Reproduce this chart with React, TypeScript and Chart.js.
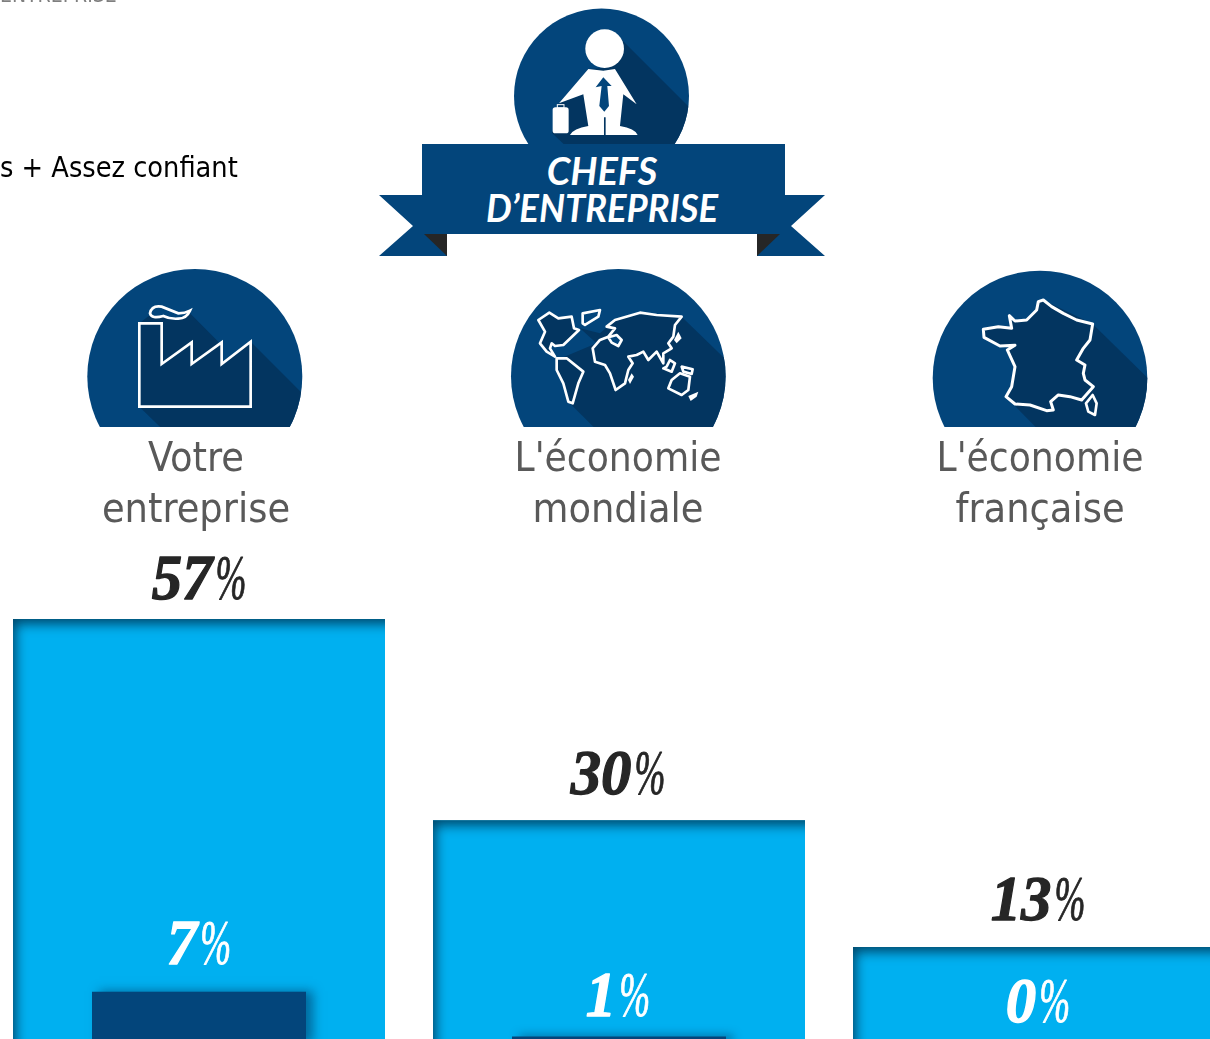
import React, { useEffect, useRef } from "react";
import { Chart, registerables } from "chart.js";

Chart.register(...registerables);

const categories = [["Votre", "entreprise"], ["L'économie", "mondiale"], ["L'économie", "française"]];
const totalValues = [57, 30, 13];
const strongValues = [7, 1, 0];
const headerLines = ["CHEFS", "D’ENTREPRISE"];
const legendFragment = "s + Assez confiant";
const clippedHeading = "ENTREPRISE";

const BLUE = "#03457B";
const SHADE = "#033560";
const SKY = "#00B0F0";
const totalGaps = [20, 26, 27];
const strongGaps = [28, 21, 22];
const labelNudge = [0, -1, -1];

function drawValue(ctx: CanvasRenderingContext2D, v: number, cx: number, baseline: number, color: string) {
  const digitScale = 0.95;
  const pctScale = 0.58;
  const gap = 3;
  const size = 64;
  const digits = String(v);
  const boldFont = `italic bold ${size}px "Liberation Serif"`;
  const thinFont = `italic ${size}px "Liberation Serif"`;
  ctx.save();
  ctx.fillStyle = color;
  ctx.strokeStyle = color;
  ctx.lineJoin = "round";
  ctx.textAlign = "left";
  ctx.textBaseline = "alphabetic";
  ctx.font = boldFont;
  const dw = ctx.measureText(digits).width * digitScale;
  ctx.font = thinFont;
  const pw = ctx.measureText("%").width * pctScale;
  const start = cx - (dw + gap + pw) / 2;
  ctx.save();
  ctx.translate(start, baseline);
  ctx.scale(digitScale, 1);
  ctx.font = boldFont;
  ctx.lineWidth = 1.3;
  ctx.fillText(digits, 0, 0);
  ctx.strokeText(digits, 0, 0);
  ctx.restore();
  ctx.save();
  ctx.translate(start + dw + gap, baseline);
  ctx.scale(pctScale, 1);
  ctx.font = thinFont;
  ctx.lineWidth = 1;
  ctx.fillText("%", 0, 0);
  ctx.strokeText("%", 0, 0);
  ctx.restore();
  ctx.restore();
}

const decorPlugin = {
  id: "decor",
  beforeDatasetDraw(chart: any, args: any) {
    if (args.index === 1) {
      const ctx = chart.ctx;
      ctx.save();
      ctx.shadowColor = "rgba(0,50,90,0.55)";
      ctx.shadowBlur = 10;
      ctx.shadowOffsetX = 7;
      ctx.shadowOffsetY = -1;
    }
  },
  afterDatasetDraw(chart: any, args: any) {
    const ctx = chart.ctx;
    if (args.index === 1) {
      ctx.restore();
      return;
    }
    chart.getDatasetMeta(0).data.forEach((bar: any) => {
      const x = bar.x - bar.width / 2;
      const y = bar.y;
      const h = bar.base - bar.y;
      ctx.save();
      ctx.beginPath();
      ctx.rect(x, y, bar.width, h);
      ctx.clip();
      ctx.shadowColor = "rgba(0,70,105,0.98)";
      ctx.shadowBlur = 12;
      ctx.shadowOffsetX = 3;
      ctx.shadowOffsetY = 5;
      ctx.fillStyle = "#00597f";
      ctx.beginPath();
      ctx.rect(x - 80, y - 80, bar.width + 200, h + 200);
      ctx.rect(x, y, bar.width + 60, h + 60);
      ctx.fill("evenodd");
      ctx.restore();
    });
  },
  afterDraw(chart: any) {
    const ctx = chart.ctx;
    const total = chart.getDatasetMeta(0).data;
    const strong = chart.getDatasetMeta(1).data;
    total.forEach((bar: any, i: number) => {
      drawValue(ctx, totalValues[i], bar.x + labelNudge[i], bar.y - totalGaps[i], "#262626");
      drawValue(ctx, strongValues[i], bar.x + labelNudge[i], strong[i].y - strongGaps[i], "#FFFFFF");
      ctx.save();
      ctx.fillStyle = "#595959";
      ctx.textAlign = "center";
      ctx.textBaseline = "alphabetic";
      ctx.font = '41px "DejaVu Sans Condensed", "DejaVu Sans"';
      const cx = bar.x + (i === 0 ? -3 : i === 1 ? -1 : 1);
      ctx.fillText(categories[i][0], cx, 471, 207);
      ctx.fillText(categories[i][1], cx, 522, 207);
      ctx.restore();
    });
  },
};

function Round({ cx, cy, r, clipY, id, children }: any) {
  return (
    <g>
      <clipPath id={id}>
        <rect x={cx - r - 2} y={cy - r - 2} width={2 * r + 4} height={clipY - cy + r + 2} />
      </clipPath>
      <clipPath id={id + "c"}>
        <circle cx={cx} cy={cy} r={r} />
      </clipPath>
      <g clipPath={`url(#${id})`}>
        <circle cx={cx} cy={cy} r={r} fill={BLUE} />
        <g clipPath={`url(#${id}c)`}>{children}</g>
      </g>
    </g>
  );
}

const line = { fill: SHADE, stroke: "#fff", strokeWidth: 8, strokeLinejoin: "round" as const };

function Art() {
  return (
    <svg width={1210} height={1039} style={{ position: "absolute", left: 0, top: 0 }}>
      <Round id="c0" cx={601.5} cy={96} r={87.5} clipY={144}>
        <polygon fill={SHADE} points="620,38 708,126 708,160 570,150 552,133 559,104 588,69 604,68" />
      </Round>
      <g transform="translate(370,0) scale(0.3333)" fill="#fff">
        <circle cx={704} cy={146} r={58} />
        <path d="M655,207 L700,212 L735,207 L800,313 L760,283 L750,378 Q795,385 803,405 L707,405 L707,352 L702,352 L702,405 L600,405 Q610,385 655,378 L640,283 L567,310 Z" />
        <path fill={BLUE} d="M700,232 L725,258 L712,258 L717,318 L703,335 L688,318 L695,258 L677,262 Z" />
        <rect x={548} y={322} width={48} height={78} rx={8} />
        <rect x={562} y={314} width={20} height={10} fill="none" stroke="#fff" strokeWidth={3} />
      </g>
      <polygon fill={BLUE} points="422,144 785,144 785,195 825,195 791,226 825,256 757,256 757,234 447,234 447,256 379,256 413,226 379,195 422,195" />
      <polygon fill="#262626" points="424,234 447,234 447,256" />
      <polygon fill="#262626" points="757,234 780,234 757,256" />
      <g fill="#fff" fontFamily="Lato" fontStyle="italic" fontWeight={700} fontSize={38} textAnchor="middle">
        <text x={602} y={185}>{headerLines[0]}</text>
        <text x={602} y={222} textLength={232} lengthAdjust="spacingAndGlyphs">{headerLines[1]}</text>
      </g>

      <Round id="c1" cx={194.8} cy={376.5} r={107.5} clipY={427}>
        <g transform="translate(70,260) scale(0.3333)">
          <polygon fill={SHADE} points="360,160 445,245 455,312 542,245 692,395 720,423 720,540 290,520 208,440 208,190 240,165" />
        </g>
      </Round>
      <g transform="translate(70,260) scale(0.3333)">
        <polygon {...line} strokeLinejoin="miter" points="208,190 275,190 275,312 365,247 365,312 455,247 455,312 542,245 542,440 208,440" />
        <path fill={BLUE} stroke="#fff" strokeWidth={8} d="M240,160 Q245,135 275,140 Q300,150 325,160 Q345,160 360,152 Q350,175 325,176 Q300,178 280,168 Q245,178 240,160 Z" />
      </g>

      <Round id="c2" cx={618.3} cy={376.3} r={107.3} clipY={427}>
        <g transform="translate(500,260) scale(0.3333)">
          <polygon fill={SHADE} points="545,170 720,340 720,540 320,540 205,425 170,300 290,250 240,205 300,220 345,180" />
        </g>
      </Round>
      <g transform="translate(500,260) scale(0.3333)">
        <polygon {...line} points="115,180 148,158 175,175 215,170 222,205 237,210 190,255 165,258 155,250 150,265 165,290 140,275 120,250 135,215" />
        <polygon {...line} points="170,295 200,295 250,335 235,370 218,430 205,425 190,370 170,330" />
        <polygon {...line} fill={BLUE} points="248,160 300,150 295,170 255,195 248,190" />
        <polygon {...line} points="320,200 345,180 420,158 470,165 545,170 525,195 520,230 505,250 515,265 490,280 490,310 470,275 445,300 430,275 410,285 385,290 398,310 385,330 375,370 347,390 330,340 315,315 285,305 278,265 300,240 325,230 345,205" />
        <polygon {...line} fill={BLUE} points="325,232 350,225 365,240 355,258 335,248" />
        <polygon {...line} points="490,325 515,335 525,310 510,300 500,320" />
        <polygon {...line} points="545,320 578,328 575,342 550,335" />
        <polygon {...line} points="540,340 570,350 565,390 545,405 505,385 515,360" />
        <polygon fill="#fff" points="535,215 545,235 530,250 522,240" />
        <polygon fill="#fff" points="395,340 402,350 390,372 384,360" />
        <polygon fill="#fff" points="565,408 595,395 590,410 572,423" />
      </g>

      <Round id="c3" cx={1040} cy={378} r={107.3} clipY={427}>
        <g transform="translate(920,260) scale(0.3333)">
          <polygon fill={SHADE} points="518,192 720,390 720,540 385,540 258,410 370,120" />
        </g>
      </Round>
      <g transform="translate(920,260) scale(0.3333)">
        <polygon {...line} strokeWidth={9} points="370,120 355,125 350,150 320,180 285,183 268,167 275,205 235,200 190,208 192,232 240,258 285,256 262,270 285,320 275,380 258,410 285,432 330,435 380,452 400,450 392,425 415,405 450,410 485,420 520,380 495,360 490,340 495,315 470,300 490,265 510,240 518,192 470,180 430,160 395,140" />
        <polygon {...line} points="518,405 530,430 525,465 505,455 498,430" />
      </g>
    </svg>
  );
}

export default function App() {
  const ref = useRef<HTMLCanvasElement>(null);
  useEffect(() => {
    const chart = new Chart(ref.current as HTMLCanvasElement, {
      type: "bar",
      data: {
        labels: categories.map((c) => c.join(" ")),
        datasets: [
          { label: "Très + Assez confiant", data: totalValues, backgroundColor: SKY, barPercentage: 372 / 420, categoryPercentage: 1, grouped: false, order: 2 },
          { label: "Très confiant", data: strongValues, backgroundColor: BLUE, barPercentage: 214 / 420, categoryPercentage: 1, grouped: false, order: 1 },
        ],
      },
      options: {
        responsive: false,
        animation: false,
        layout: { padding: 0 },
        plugins: { legend: { display: false }, tooltip: { enabled: false } },
        scales: {
          x: { display: false },
          y: { display: false, min: 0, max: 140 },
        },
      },
      plugins: [decorPlugin],
    } as any);
    return () => chart.destroy();
  }, []);
  return (
    <div style={{ position: "absolute", left: 0, top: 0, width: 1210, height: 1039, overflow: "hidden", background: "#fff" }}>
      <Art />
      <canvas ref={ref} width={1260} height={1044} style={{ position: "absolute", left: -11, top: 0, width: 1260, height: 1044 }} />
      <div style={{ position: "absolute", left: 0, top: -17, fontFamily: '"DejaVu Sans Condensed"', fontSize: 21, lineHeight: "24px", color: "#7f7f7f", whiteSpace: "nowrap" }}>{clippedHeading}</div>
      <div style={{ position: "absolute", left: 0, top: 149, fontFamily: '"DejaVu Sans Condensed"', fontSize: 28.6, lineHeight: "36px", color: "#000", whiteSpace: "nowrap" }}>{legendFragment}</div>
    </div>
  );
}
